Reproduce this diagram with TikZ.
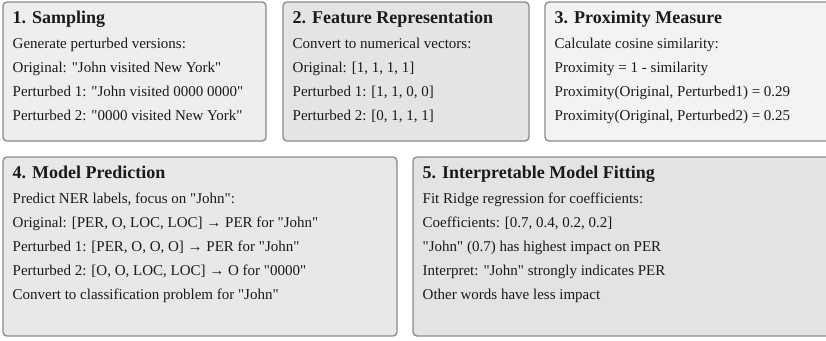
\documentclass[tikz,border=0pt]{standalone}
\usepackage{fontspec}
\setmainfont{Liberation Serif}[Ligatures=TeXOff]
\definecolor{edge}{HTML}{8A8A8A}
\definecolor{ink}{HTML}{1A1A1A}
\definecolor{fillA}{HTML}{EEEEEE}
\definecolor{fillB}{HTML}{E4E4E4}
\definecolor{fillC}{HTML}{F3F3F3}
\definecolor{fillD}{HTML}{E8E8E8}
\definecolor{fillE}{HTML}{E3E3E3}
\tikzset{
  panel/.style={draw=edge, line width=1.3pt, rounded corners=4pt},
  heading/.style={anchor=base west, inner sep=0pt, text=ink,
    font=\fontsize{18}{21}\selectfont\bfseries},
  body/.style={anchor=base west, inner sep=0pt, text=ink,
    font=\fontsize{15}{18}\selectfont},
}
\begin{document}
\begin{tikzpicture}[x=1pt, y=-1pt]
\useasboundingbox (0,0) rectangle (826,340);
\clip (0,0) rectangle (826,340);

% panels
\draw[panel, fill=fillA] (3,2) rectangle (266,141);
\draw[panel, fill=fillB] (283,2) rectangle (529,141);
\draw[panel, fill=fillC] (545,2) rectangle (840,141);
\draw[panel, fill=fillD] (3,157) rectangle (397,336);
\draw[panel, fill=fillE] (413,157) rectangle (840,336);

% 1. Sampling
\node[heading] (t1) at (12.5,23.5) {1. Sampling};
\node[body] (a1) at (12.5,48) {Generate perturbed versions:};
\node[body] (a2) at (12.5,72) {Original: "John visited New York"};
\node[body] (a3) at (12.5,96) {Perturbed 1: "John visited 0000 0000"};
\node[body] (a4) at (12.5,120) {Perturbed 2: "0000 visited New York"};

% 2. Feature Representation
\node[heading] (t2) at (292.5,23.5) {2. Feature Representation};
\node[body] (b1) at (292.5,48) {Convert to numerical vectors:};
\node[body] (b2) at (292.5,72) {Original: [1, 1, 1, 1]};
\node[body] (b3) at (292.5,96) {Perturbed 1: [1, 1, 0, 0]};
\node[body] (b4) at (292.5,120) {Perturbed 2: [0, 1, 1, 1]};

% 3. Proximity Measure
\node[heading] (t3) at (554.5,23.5) {3. Proximity Measure};
\node[body] (c1) at (554.5,48) {Calculate cosine similarity:};
\node[body] (c2) at (554.5,72) {Proximity = 1 - similarity};
\node[body] (c3) at (554.5,96) {Proximity(Original, Perturbed1) = 0.29};
\node[body] (c4) at (554.5,120) {Proximity(Original, Perturbed2) = 0.25};

% 4. Model Prediction
\node[heading] (t4) at (12.5,178.5) {4. Model Prediction};
\node[body] (d1) at (12.5,203) {Predict NER labels, focus on "John":};
\node[body] (d2) at (12.5,227) {Original: [PER, O, LOC, LOC] → PER for "John"};
\node[body] (d3) at (12.5,251) {Perturbed 1: [PER, O, O, O] → PER for "John"};
\node[body] (d4) at (12.5,275) {Perturbed 2: [O, O, LOC, LOC] → O for "0000"};
\node[body] (d5) at (12.5,299) {Convert to classification problem for "John"};

% 5. Interpretable Model Fitting
\node[heading] (t5) at (422.5,178.5) {5. Interpretable Model Fitting};
\node[body] (e1) at (422.5,203) {Fit Ridge regression for coefficients:};
\node[body] (e2) at (422.5,227) {Coefficients: [0.7, 0.4, 0.2, 0.2]};
\node[body] (e3) at (422.5,251) {"John" (0.7) has highest impact on PER};
\node[body] (e4) at (422.5,275) {Interpret: "John" strongly indicates PER};
\node[body] (e5) at (422.5,299) {Other words have less impact};
\end{tikzpicture}
\end{document}
